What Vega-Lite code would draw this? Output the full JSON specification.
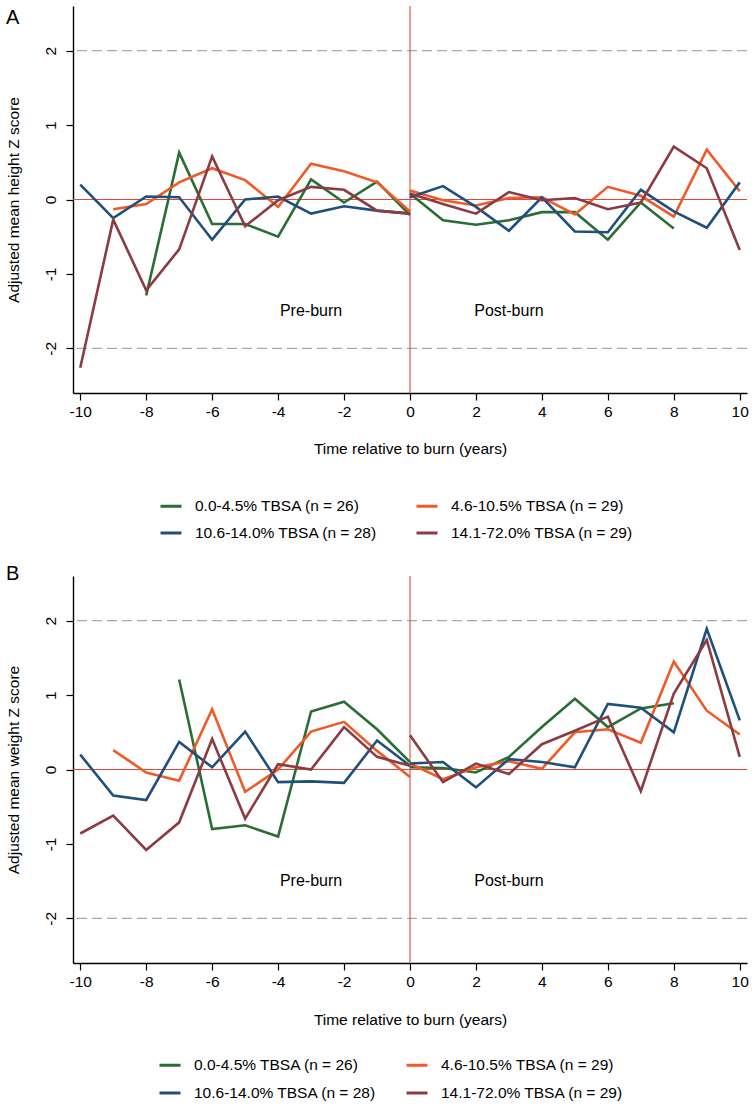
{
  "$schema": "https://vega.github.io/schema/vega-lite/v6.json",
  "padding": 5,
  "spacing": 21,
  "config": {
    "view": {"stroke": null},
    "font": "Liberation Sans",
    "axis": {"domainColor": "black", "domainWidth": 1.4, "tickColor": "black", "tickWidth": 1.2, "tickSize": 7, "labelFontSize": 15.5, "titleFontSize": 15.5, "titleFontWeight": "normal", "labelColor": "black", "titleColor": "black", "grid": false, "labelFont": "Liberation Sans", "titleFont": "Liberation Sans", "labelExpr": "datum.value < 0 ? '-' + abs(datum.value) : '' + datum.value"},
    "legend": {"labelFont": "Liberation Sans", "labelColor": "black"}
  },
  "datasets": {
    "series": [
      {"p": "A", "g": "0.0-4.5% TBSA (n = 26)", "s": "pre", "x": -8, "y": -1.29},
      {"p": "A", "g": "0.0-4.5% TBSA (n = 26)", "s": "pre", "x": -7, "y": 0.63},
      {"p": "A", "g": "0.0-4.5% TBSA (n = 26)", "s": "pre", "x": -6, "y": -0.33},
      {"p": "A", "g": "0.0-4.5% TBSA (n = 26)", "s": "pre", "x": -5, "y": -0.33},
      {"p": "A", "g": "0.0-4.5% TBSA (n = 26)", "s": "pre", "x": -4, "y": -0.50},
      {"p": "A", "g": "0.0-4.5% TBSA (n = 26)", "s": "pre", "x": -3, "y": 0.27},
      {"p": "A", "g": "0.0-4.5% TBSA (n = 26)", "s": "pre", "x": -2, "y": -0.04},
      {"p": "A", "g": "0.0-4.5% TBSA (n = 26)", "s": "pre", "x": -1, "y": 0.24},
      {"p": "A", "g": "0.0-4.5% TBSA (n = 26)", "s": "pre", "x": 0, "y": -0.21},
      {"p": "A", "g": "0.0-4.5% TBSA (n = 26)", "s": "post", "x": 0, "y": 0.08},
      {"p": "A", "g": "0.0-4.5% TBSA (n = 26)", "s": "post", "x": 1, "y": -0.28},
      {"p": "A", "g": "0.0-4.5% TBSA (n = 26)", "s": "post", "x": 2, "y": -0.34},
      {"p": "A", "g": "0.0-4.5% TBSA (n = 26)", "s": "post", "x": 3, "y": -0.28},
      {"p": "A", "g": "0.0-4.5% TBSA (n = 26)", "s": "post", "x": 4, "y": -0.17},
      {"p": "A", "g": "0.0-4.5% TBSA (n = 26)", "s": "post", "x": 5, "y": -0.17},
      {"p": "A", "g": "0.0-4.5% TBSA (n = 26)", "s": "post", "x": 6, "y": -0.54},
      {"p": "A", "g": "0.0-4.5% TBSA (n = 26)", "s": "post", "x": 7, "y": -0.04},
      {"p": "A", "g": "0.0-4.5% TBSA (n = 26)", "s": "post", "x": 8, "y": -0.39},

      {"p": "A", "g": "4.6-10.5% TBSA (n = 29)", "s": "pre", "x": -9, "y": -0.13},
      {"p": "A", "g": "4.6-10.5% TBSA (n = 29)", "s": "pre", "x": -8, "y": -0.06},
      {"p": "A", "g": "4.6-10.5% TBSA (n = 29)", "s": "pre", "x": -7, "y": 0.23},
      {"p": "A", "g": "4.6-10.5% TBSA (n = 29)", "s": "pre", "x": -6, "y": 0.42},
      {"p": "A", "g": "4.6-10.5% TBSA (n = 29)", "s": "pre", "x": -5, "y": 0.26},
      {"p": "A", "g": "4.6-10.5% TBSA (n = 29)", "s": "pre", "x": -4, "y": -0.10},
      {"p": "A", "g": "4.6-10.5% TBSA (n = 29)", "s": "pre", "x": -3, "y": 0.48},
      {"p": "A", "g": "4.6-10.5% TBSA (n = 29)", "s": "pre", "x": -2, "y": 0.38},
      {"p": "A", "g": "4.6-10.5% TBSA (n = 29)", "s": "pre", "x": -1, "y": 0.23},
      {"p": "A", "g": "4.6-10.5% TBSA (n = 29)", "s": "pre", "x": 0, "y": -0.16},
      {"p": "A", "g": "4.6-10.5% TBSA (n = 29)", "s": "post", "x": 0, "y": 0.12},
      {"p": "A", "g": "4.6-10.5% TBSA (n = 29)", "s": "post", "x": 1, "y": -0.01},
      {"p": "A", "g": "4.6-10.5% TBSA (n = 29)", "s": "post", "x": 2, "y": -0.08},
      {"p": "A", "g": "4.6-10.5% TBSA (n = 29)", "s": "post", "x": 3, "y": 0.02},
      {"p": "A", "g": "4.6-10.5% TBSA (n = 29)", "s": "post", "x": 4, "y": 0.03},
      {"p": "A", "g": "4.6-10.5% TBSA (n = 29)", "s": "post", "x": 5, "y": -0.20},
      {"p": "A", "g": "4.6-10.5% TBSA (n = 29)", "s": "post", "x": 6, "y": 0.17},
      {"p": "A", "g": "4.6-10.5% TBSA (n = 29)", "s": "post", "x": 7, "y": 0.05},
      {"p": "A", "g": "4.6-10.5% TBSA (n = 29)", "s": "post", "x": 8, "y": -0.23},
      {"p": "A", "g": "4.6-10.5% TBSA (n = 29)", "s": "post", "x": 9, "y": 0.67},
      {"p": "A", "g": "4.6-10.5% TBSA (n = 29)", "s": "post", "x": 10, "y": 0.11},

      {"p": "A", "g": "10.6-14.0% TBSA (n = 28)", "s": "pre", "x": -10, "y": 0.20},
      {"p": "A", "g": "10.6-14.0% TBSA (n = 28)", "s": "pre", "x": -9, "y": -0.25},
      {"p": "A", "g": "10.6-14.0% TBSA (n = 28)", "s": "pre", "x": -8, "y": 0.04},
      {"p": "A", "g": "10.6-14.0% TBSA (n = 28)", "s": "pre", "x": -7, "y": 0.03},
      {"p": "A", "g": "10.6-14.0% TBSA (n = 28)", "s": "pre", "x": -6, "y": -0.54},
      {"p": "A", "g": "10.6-14.0% TBSA (n = 28)", "s": "pre", "x": -5, "y": 0.00},
      {"p": "A", "g": "10.6-14.0% TBSA (n = 28)", "s": "pre", "x": -4, "y": 0.04},
      {"p": "A", "g": "10.6-14.0% TBSA (n = 28)", "s": "pre", "x": -3, "y": -0.19},
      {"p": "A", "g": "10.6-14.0% TBSA (n = 28)", "s": "pre", "x": -2, "y": -0.09},
      {"p": "A", "g": "10.6-14.0% TBSA (n = 28)", "s": "pre", "x": -1, "y": -0.15},
      {"p": "A", "g": "10.6-14.0% TBSA (n = 28)", "s": "pre", "x": 0, "y": -0.19},
      {"p": "A", "g": "10.6-14.0% TBSA (n = 28)", "s": "post", "x": 0, "y": 0.03},
      {"p": "A", "g": "10.6-14.0% TBSA (n = 28)", "s": "post", "x": 1, "y": 0.18},
      {"p": "A", "g": "10.6-14.0% TBSA (n = 28)", "s": "post", "x": 2, "y": -0.10},
      {"p": "A", "g": "10.6-14.0% TBSA (n = 28)", "s": "post", "x": 3, "y": -0.42},
      {"p": "A", "g": "10.6-14.0% TBSA (n = 28)", "s": "post", "x": 4, "y": 0.03},
      {"p": "A", "g": "10.6-14.0% TBSA (n = 28)", "s": "post", "x": 5, "y": -0.43},
      {"p": "A", "g": "10.6-14.0% TBSA (n = 28)", "s": "post", "x": 6, "y": -0.44},
      {"p": "A", "g": "10.6-14.0% TBSA (n = 28)", "s": "post", "x": 7, "y": 0.13},
      {"p": "A", "g": "10.6-14.0% TBSA (n = 28)", "s": "post", "x": 8, "y": -0.16},
      {"p": "A", "g": "10.6-14.0% TBSA (n = 28)", "s": "post", "x": 9, "y": -0.38},
      {"p": "A", "g": "10.6-14.0% TBSA (n = 28)", "s": "post", "x": 10, "y": 0.23},

      {"p": "A", "g": "14.1-72.0% TBSA (n = 29)", "s": "pre", "x": -10, "y": -2.26},
      {"p": "A", "g": "14.1-72.0% TBSA (n = 29)", "s": "pre", "x": -9, "y": -0.27},
      {"p": "A", "g": "14.1-72.0% TBSA (n = 29)", "s": "pre", "x": -8, "y": -1.22},
      {"p": "A", "g": "14.1-72.0% TBSA (n = 29)", "s": "pre", "x": -7, "y": -0.67},
      {"p": "A", "g": "14.1-72.0% TBSA (n = 29)", "s": "pre", "x": -6, "y": 0.58},
      {"p": "A", "g": "14.1-72.0% TBSA (n = 29)", "s": "pre", "x": -5, "y": -0.36},
      {"p": "A", "g": "14.1-72.0% TBSA (n = 29)", "s": "pre", "x": -4, "y": -0.01},
      {"p": "A", "g": "14.1-72.0% TBSA (n = 29)", "s": "pre", "x": -3, "y": 0.17},
      {"p": "A", "g": "14.1-72.0% TBSA (n = 29)", "s": "pre", "x": -2, "y": 0.13},
      {"p": "A", "g": "14.1-72.0% TBSA (n = 29)", "s": "pre", "x": -1, "y": -0.15},
      {"p": "A", "g": "14.1-72.0% TBSA (n = 29)", "s": "pre", "x": 0, "y": -0.19},
      {"p": "A", "g": "14.1-72.0% TBSA (n = 29)", "s": "post", "x": 0, "y": 0.08},
      {"p": "A", "g": "14.1-72.0% TBSA (n = 29)", "s": "post", "x": 1, "y": -0.06},
      {"p": "A", "g": "14.1-72.0% TBSA (n = 29)", "s": "post", "x": 2, "y": -0.19},
      {"p": "A", "g": "14.1-72.0% TBSA (n = 29)", "s": "post", "x": 3, "y": 0.10},
      {"p": "A", "g": "14.1-72.0% TBSA (n = 29)", "s": "post", "x": 4, "y": -0.01},
      {"p": "A", "g": "14.1-72.0% TBSA (n = 29)", "s": "post", "x": 5, "y": 0.02},
      {"p": "A", "g": "14.1-72.0% TBSA (n = 29)", "s": "post", "x": 6, "y": -0.13},
      {"p": "A", "g": "14.1-72.0% TBSA (n = 29)", "s": "post", "x": 7, "y": -0.04},
      {"p": "A", "g": "14.1-72.0% TBSA (n = 29)", "s": "post", "x": 8, "y": 0.71},
      {"p": "A", "g": "14.1-72.0% TBSA (n = 29)", "s": "post", "x": 9, "y": 0.42},
      {"p": "A", "g": "14.1-72.0% TBSA (n = 29)", "s": "post", "x": 10, "y": -0.68},

      {"p": "B", "g": "0.0-4.5% TBSA (n = 26)", "s": "pre", "x": -7, "y": 1.21},
      {"p": "B", "g": "0.0-4.5% TBSA (n = 26)", "s": "pre", "x": -6, "y": -0.80},
      {"p": "B", "g": "0.0-4.5% TBSA (n = 26)", "s": "pre", "x": -5, "y": -0.75},
      {"p": "B", "g": "0.0-4.5% TBSA (n = 26)", "s": "pre", "x": -4, "y": -0.90},
      {"p": "B", "g": "0.0-4.5% TBSA (n = 26)", "s": "pre", "x": -3, "y": 0.78},
      {"p": "B", "g": "0.0-4.5% TBSA (n = 26)", "s": "pre", "x": -2, "y": 0.91},
      {"p": "B", "g": "0.0-4.5% TBSA (n = 26)", "s": "pre", "x": -1, "y": 0.54},
      {"p": "B", "g": "0.0-4.5% TBSA (n = 26)", "s": "pre", "x": 0, "y": 0.10},
      {"p": "B", "g": "0.0-4.5% TBSA (n = 26)", "s": "post", "x": 0, "y": 0.03},
      {"p": "B", "g": "0.0-4.5% TBSA (n = 26)", "s": "post", "x": 1, "y": 0.02},
      {"p": "B", "g": "0.0-4.5% TBSA (n = 26)", "s": "post", "x": 2, "y": -0.04},
      {"p": "B", "g": "0.0-4.5% TBSA (n = 26)", "s": "post", "x": 3, "y": 0.17},
      {"p": "B", "g": "0.0-4.5% TBSA (n = 26)", "s": "post", "x": 4, "y": 0.57},
      {"p": "B", "g": "0.0-4.5% TBSA (n = 26)", "s": "post", "x": 5, "y": 0.95},
      {"p": "B", "g": "0.0-4.5% TBSA (n = 26)", "s": "post", "x": 6, "y": 0.57},
      {"p": "B", "g": "0.0-4.5% TBSA (n = 26)", "s": "post", "x": 7, "y": 0.82},
      {"p": "B", "g": "0.0-4.5% TBSA (n = 26)", "s": "post", "x": 8, "y": 0.89},

      {"p": "B", "g": "4.6-10.5% TBSA (n = 29)", "s": "pre", "x": -9, "y": 0.26},
      {"p": "B", "g": "4.6-10.5% TBSA (n = 29)", "s": "pre", "x": -8, "y": -0.04},
      {"p": "B", "g": "4.6-10.5% TBSA (n = 29)", "s": "pre", "x": -7, "y": -0.15},
      {"p": "B", "g": "4.6-10.5% TBSA (n = 29)", "s": "pre", "x": -6, "y": 0.81},
      {"p": "B", "g": "4.6-10.5% TBSA (n = 29)", "s": "pre", "x": -5, "y": -0.30},
      {"p": "B", "g": "4.6-10.5% TBSA (n = 29)", "s": "pre", "x": -4, "y": 0.00},
      {"p": "B", "g": "4.6-10.5% TBSA (n = 29)", "s": "pre", "x": -3, "y": 0.51},
      {"p": "B", "g": "4.6-10.5% TBSA (n = 29)", "s": "pre", "x": -2, "y": 0.64},
      {"p": "B", "g": "4.6-10.5% TBSA (n = 29)", "s": "pre", "x": -1, "y": 0.25},
      {"p": "B", "g": "4.6-10.5% TBSA (n = 29)", "s": "pre", "x": 0, "y": -0.10},
      {"p": "B", "g": "4.6-10.5% TBSA (n = 29)", "s": "post", "x": 0, "y": 0.08},
      {"p": "B", "g": "4.6-10.5% TBSA (n = 29)", "s": "post", "x": 1, "y": -0.13},
      {"p": "B", "g": "4.6-10.5% TBSA (n = 29)", "s": "post", "x": 2, "y": 0.03},
      {"p": "B", "g": "4.6-10.5% TBSA (n = 29)", "s": "post", "x": 3, "y": 0.11},
      {"p": "B", "g": "4.6-10.5% TBSA (n = 29)", "s": "post", "x": 4, "y": 0.01},
      {"p": "B", "g": "4.6-10.5% TBSA (n = 29)", "s": "post", "x": 5, "y": 0.50},
      {"p": "B", "g": "4.6-10.5% TBSA (n = 29)", "s": "post", "x": 6, "y": 0.54},
      {"p": "B", "g": "4.6-10.5% TBSA (n = 29)", "s": "post", "x": 7, "y": 0.36},
      {"p": "B", "g": "4.6-10.5% TBSA (n = 29)", "s": "post", "x": 8, "y": 1.45},
      {"p": "B", "g": "4.6-10.5% TBSA (n = 29)", "s": "post", "x": 9, "y": 0.79},
      {"p": "B", "g": "4.6-10.5% TBSA (n = 29)", "s": "post", "x": 10, "y": 0.47},

      {"p": "B", "g": "10.6-14.0% TBSA (n = 28)", "s": "pre", "x": -10, "y": 0.20},
      {"p": "B", "g": "10.6-14.0% TBSA (n = 28)", "s": "pre", "x": -9, "y": -0.35},
      {"p": "B", "g": "10.6-14.0% TBSA (n = 28)", "s": "pre", "x": -8, "y": -0.41},
      {"p": "B", "g": "10.6-14.0% TBSA (n = 28)", "s": "pre", "x": -7, "y": 0.37},
      {"p": "B", "g": "10.6-14.0% TBSA (n = 28)", "s": "pre", "x": -6, "y": 0.03},
      {"p": "B", "g": "10.6-14.0% TBSA (n = 28)", "s": "pre", "x": -5, "y": 0.51},
      {"p": "B", "g": "10.6-14.0% TBSA (n = 28)", "s": "pre", "x": -4, "y": -0.17},
      {"p": "B", "g": "10.6-14.0% TBSA (n = 28)", "s": "pre", "x": -3, "y": -0.16},
      {"p": "B", "g": "10.6-14.0% TBSA (n = 28)", "s": "pre", "x": -2, "y": -0.18},
      {"p": "B", "g": "10.6-14.0% TBSA (n = 28)", "s": "pre", "x": -1, "y": 0.39},
      {"p": "B", "g": "10.6-14.0% TBSA (n = 28)", "s": "pre", "x": 0, "y": 0.05},
      {"p": "B", "g": "10.6-14.0% TBSA (n = 28)", "s": "post", "x": 0, "y": 0.08},
      {"p": "B", "g": "10.6-14.0% TBSA (n = 28)", "s": "post", "x": 1, "y": 0.10},
      {"p": "B", "g": "10.6-14.0% TBSA (n = 28)", "s": "post", "x": 2, "y": -0.24},
      {"p": "B", "g": "10.6-14.0% TBSA (n = 28)", "s": "post", "x": 3, "y": 0.14},
      {"p": "B", "g": "10.6-14.0% TBSA (n = 28)", "s": "post", "x": 4, "y": 0.10},
      {"p": "B", "g": "10.6-14.0% TBSA (n = 28)", "s": "post", "x": 5, "y": 0.03},
      {"p": "B", "g": "10.6-14.0% TBSA (n = 28)", "s": "post", "x": 6, "y": 0.88},
      {"p": "B", "g": "10.6-14.0% TBSA (n = 28)", "s": "post", "x": 7, "y": 0.83},
      {"p": "B", "g": "10.6-14.0% TBSA (n = 28)", "s": "post", "x": 8, "y": 0.50},
      {"p": "B", "g": "10.6-14.0% TBSA (n = 28)", "s": "post", "x": 9, "y": 1.89},
      {"p": "B", "g": "10.6-14.0% TBSA (n = 28)", "s": "post", "x": 10, "y": 0.66},

      {"p": "B", "g": "14.1-72.0% TBSA (n = 29)", "s": "pre", "x": -10, "y": -0.86},
      {"p": "B", "g": "14.1-72.0% TBSA (n = 29)", "s": "pre", "x": -9, "y": -0.62},
      {"p": "B", "g": "14.1-72.0% TBSA (n = 29)", "s": "pre", "x": -8, "y": -1.08},
      {"p": "B", "g": "14.1-72.0% TBSA (n = 29)", "s": "pre", "x": -7, "y": -0.71},
      {"p": "B", "g": "14.1-72.0% TBSA (n = 29)", "s": "pre", "x": -6, "y": 0.41},
      {"p": "B", "g": "14.1-72.0% TBSA (n = 29)", "s": "pre", "x": -5, "y": -0.66},
      {"p": "B", "g": "14.1-72.0% TBSA (n = 29)", "s": "pre", "x": -4, "y": 0.07},
      {"p": "B", "g": "14.1-72.0% TBSA (n = 29)", "s": "pre", "x": -3, "y": 0.00},
      {"p": "B", "g": "14.1-72.0% TBSA (n = 29)", "s": "pre", "x": -2, "y": 0.57},
      {"p": "B", "g": "14.1-72.0% TBSA (n = 29)", "s": "pre", "x": -1, "y": 0.17},
      {"p": "B", "g": "14.1-72.0% TBSA (n = 29)", "s": "pre", "x": 0, "y": 0.05},
      {"p": "B", "g": "14.1-72.0% TBSA (n = 29)", "s": "post", "x": 0, "y": 0.46},
      {"p": "B", "g": "14.1-72.0% TBSA (n = 29)", "s": "post", "x": 1, "y": -0.17},
      {"p": "B", "g": "14.1-72.0% TBSA (n = 29)", "s": "post", "x": 2, "y": 0.08},
      {"p": "B", "g": "14.1-72.0% TBSA (n = 29)", "s": "post", "x": 3, "y": -0.06},
      {"p": "B", "g": "14.1-72.0% TBSA (n = 29)", "s": "post", "x": 4, "y": 0.34},
      {"p": "B", "g": "14.1-72.0% TBSA (n = 29)", "s": "post", "x": 5, "y": 0.52},
      {"p": "B", "g": "14.1-72.0% TBSA (n = 29)", "s": "post", "x": 6, "y": 0.71},
      {"p": "B", "g": "14.1-72.0% TBSA (n = 29)", "s": "post", "x": 7, "y": -0.29},
      {"p": "B", "g": "14.1-72.0% TBSA (n = 29)", "s": "post", "x": 8, "y": 1.02},
      {"p": "B", "g": "14.1-72.0% TBSA (n = 29)", "s": "post", "x": 9, "y": 1.74},
      {"p": "B", "g": "14.1-72.0% TBSA (n = 29)", "s": "post", "x": 10, "y": 0.17}
    ],
    "notes": [
      {"x": -3, "y": -1.5, "label": "Pre-burn"},
      {"x": 3, "y": -1.5, "label": "Post-burn"}
    ],
    "dashlines": [{"v": -2}, {"v": 2}],
    "zeroline": [{"v": 0}]
  },
  "resolve": {"legend": {"color": "independent"}},
  "vconcat": [
    {
      "width": 674,
      "height": 387,
      "title": {"text": "A", "anchor": "start", "frame": "bounds", "fontSize": 20, "fontWeight": "normal", "color": "black", "font": "Liberation Sans", "dy": 26.5},
      "layer": [
        {"data": {"name": "dashlines"}, "mark": {"type": "rule", "color": "#a8a8a8", "strokeDash": [10, 5], "strokeWidth": 1.2}, "encoding": {"y": {"field": "v", "type": "quantitative"}}},
        {"data": {"name": "zeroline"}, "mark": {"type": "rule", "color": "#e2473d", "strokeWidth": 1.1}, "encoding": {"y": {"field": "v", "type": "quantitative"}}},
        {"data": {"name": "zeroline"}, "mark": {"type": "rule", "color": "#e2473d", "strokeWidth": 1.1}, "encoding": {"x": {"field": "v", "type": "quantitative"}}},
        {
          "data": {"name": "series"},
          "transform": [{"filter": "datum.p === 'A'"}],
          "mark": {"type": "line", "strokeWidth": 2.6},
          "encoding": {
            "x": {"field": "x", "type": "quantitative", "scale": {"domain": [-10.22, 10.22], "nice": false, "zero": false},
                  "axis": {"values": [-10, -8, -6, -4, -2, 0, 2, 4, 6, 8, 10], "title": "Time relative to burn (years)", "labelPadding": 4, "titlePadding": 22}},
            "y": {"field": "y", "type": "quantitative", "scale": {"domain": [-2.6, 2.6], "nice": false, "zero": false},
                  "axis": {"values": [-2, -1, 0, 1, 2], "title": "Adjusted mean height Z score", "labelAngle": 270, "labelAlign": "center", "labelBaseline": "bottom", "labelPadding": 8, "titlePadding": 22}},
            "color": {"field": "g", "type": "nominal",
                      "scale": {"domain": ["0.0-4.5% TBSA (n = 26)", "10.6-14.0% TBSA (n = 28)", "4.6-10.5% TBSA (n = 29)", "14.1-72.0% TBSA (n = 29)"], "range": ["#2a6e33", "#1f4f7c", "#f05a28", "#8c3b42"]},
                      "legend": {"orient": "none", "legendX": 86, "legendY": 488, "columns": 2, "title": null, "symbolType": "stroke", "symbolStrokeWidth": 3, "symbolSize": 441, "labelFontSize": 15.5, "labelOffset": 12, "columnPadding": 32, "rowPadding": 6, "padding": 0, "labelLimit": 400}},
            "detail": {"field": "s", "type": "nominal"}
          }
        },
        {
          "data": {"name": "notes"},
          "mark": {"type": "text", "fontSize": 16, "font": "Liberation Sans", "color": "black"},
          "encoding": {"x": {"field": "x", "type": "quantitative"}, "y": {"field": "y", "type": "quantitative"}, "text": {"field": "label"}}
        }
      ]
    },
    {
      "width": 674,
      "height": 387,
      "title": {"text": "B", "anchor": "start", "frame": "bounds", "fontSize": 20, "fontWeight": "normal", "color": "black", "font": "Liberation Sans", "dy": 12.5},
      "layer": [
        {"data": {"name": "dashlines"}, "mark": {"type": "rule", "color": "#a8a8a8", "strokeDash": [10, 5], "strokeWidth": 1.2}, "encoding": {"y": {"field": "v", "type": "quantitative"}}},
        {"data": {"name": "zeroline"}, "mark": {"type": "rule", "color": "#e2473d", "strokeWidth": 1.1}, "encoding": {"y": {"field": "v", "type": "quantitative"}}},
        {"data": {"name": "zeroline"}, "mark": {"type": "rule", "color": "#e2473d", "strokeWidth": 1.1}, "encoding": {"x": {"field": "v", "type": "quantitative"}}},
        {
          "data": {"name": "series"},
          "transform": [{"filter": "datum.p === 'B'"}],
          "mark": {"type": "line", "strokeWidth": 2.6},
          "encoding": {
            "x": {"field": "x", "type": "quantitative", "scale": {"domain": [-10.22, 10.22], "nice": false, "zero": false},
                  "axis": {"values": [-10, -8, -6, -4, -2, 0, 2, 4, 6, 8, 10], "title": "Time relative to burn (years)", "labelPadding": 4, "titlePadding": 23}},
            "y": {"field": "y", "type": "quantitative", "scale": {"domain": [-2.6, 2.6], "nice": false, "zero": false},
                  "axis": {"values": [-2, -1, 0, 1, 2], "title": "Adjusted mean weight Z score", "labelAngle": 270, "labelAlign": "center", "labelBaseline": "bottom", "labelPadding": 8, "titlePadding": 22}},
            "color": {"field": "g", "type": "nominal",
                      "scale": {"domain": ["0.0-4.5% TBSA (n = 26)", "10.6-14.0% TBSA (n = 28)", "4.6-10.5% TBSA (n = 29)", "14.1-72.0% TBSA (n = 29)"], "range": ["#2a6e33", "#1f4f7c", "#f05a28", "#8c3b42"]},
                      "legend": {"orient": "none", "legendX": 85, "legendY": 477, "columns": 2, "title": null, "symbolType": "stroke", "symbolStrokeWidth": 3, "symbolSize": 441, "labelFontSize": 15.5, "labelOffset": 12, "columnPadding": 23, "rowPadding": 7, "padding": 0, "labelLimit": 400}},
            "detail": {"field": "s", "type": "nominal"}
          }
        },
        {
          "data": {"name": "notes"},
          "mark": {"type": "text", "fontSize": 16, "font": "Liberation Sans", "color": "black"},
          "encoding": {"x": {"field": "x", "type": "quantitative"}, "y": {"field": "y", "type": "quantitative"}, "text": {"field": "label"}}
        }
      ]
    }
  ]
}
